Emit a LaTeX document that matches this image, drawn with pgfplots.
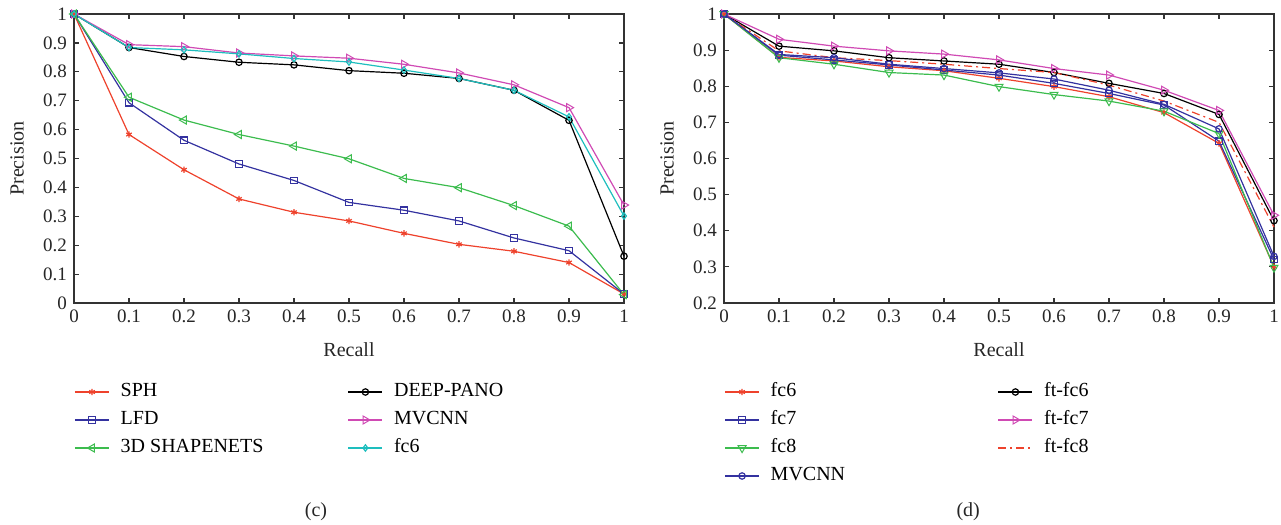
\documentclass[border=0pt]{standalone}
\usepackage{fontspec}
\setmainfont{Liberation Serif}
\usepackage{pgfplots}
\pgfplotsset{compat=1.18}

\definecolor{cred}{RGB}{238,66,44}
\definecolor{cblue}{RGB}{52,50,160}
\definecolor{cgreen}{RGB}{60,188,78}
\definecolor{cmag}{RGB}{208,74,180}
\definecolor{ccyan}{RGB}{30,190,190}

\pgfplotsset{
  prcurve/.style={
    scale only axis, width=275pt, height=144.5pt,
    xmin=0, xmax=1,
    xtick={0,0.1,0.2,0.3,0.4,0.5,0.6,0.7,0.8,0.9,1},
    tick align=inside, major tick length=2.5pt,
    axis line style={black!80, line width=0.6pt},
    tick style={black!80, line width=0.6pt},
    /pgf/number format/assume math mode=true,
    tick label style={font=\fontsize{9.5}{10}\selectfont, text=black!85},
    xlabel={Recall}, ylabel={Precision},
    label style={font=\fontsize{10}{12}\selectfont, text=black!85},
    xlabel style={at={(axis description cs:0.5,-0.1626)}, anchor=center},
    ylabel style={at={(axis description cs:-0.1036,0.5)}, anchor=center},
    clip=false,
    every axis plot/.append style={line width=0.6pt, mark size=1.6pt},
    legend columns=2,
    legend cell align=left,
    legend style={draw=none, fill=none, at={(0,-0.2685)}, anchor=north west,
      inner sep=0pt, column sep=4.5pt, row sep=3pt,
      font=\fontsize{10}{12}\selectfont,
      nodes={inner sep=1pt, text height=7pt, text depth=2pt}},
  },
  tri/.style={mark=triangle, mark options={rotate=#1, mark size=2.3pt, line width=0.5pt}},
}
\newcommand{\lb}[1]{\makebox[108pt][l]{#1}}

\begin{document}
\begin{tikzpicture}
\useasboundingbox (-37pt,-111pt) rectangle (603.5pt,151.5pt);

% (c)
\begin{axis}[prcurve, ymin=0, ymax=1,
    ytick={0,0.1,0.2,0.3,0.4,0.5,0.6,0.7,0.8,0.9,1}]
\addplot[cred, mark=asterisk] coordinates {
  (0,1) (0.1,0.583) (0.2,0.461) (0.3,0.360) (0.4,0.314) (0.5,0.284)
  (0.6,0.241) (0.7,0.203) (0.8,0.179) (0.9,0.140) (1,0.031)};
\addlegendentry{\lb{SPH}}
\addplot[black, mark=o] coordinates {
  (0,1) (0.1,0.884) (0.2,0.853) (0.3,0.833) (0.4,0.824) (0.5,0.804)
  (0.6,0.795) (0.7,0.777) (0.8,0.736) (0.9,0.632) (1,0.162)};
\addlegendentry{DEEP-PANO}
\addplot[cblue, mark=square] coordinates {
  (0,1) (0.1,0.693) (0.2,0.563) (0.3,0.481) (0.4,0.424) (0.5,0.348)
  (0.6,0.321) (0.7,0.284) (0.8,0.225) (0.9,0.181) (1,0.031)};
\addlegendentry{\lb{LFD}}
\addplot[cmag, tri=-90] coordinates {
  (0,1) (0.1,0.894) (0.2,0.887) (0.3,0.865) (0.4,0.855) (0.5,0.847)
  (0.6,0.826) (0.7,0.796) (0.8,0.755) (0.9,0.676) (1,0.339)};
\addlegendentry{MVCNN}
\addplot[cgreen, tri=90] coordinates {
  (0,1) (0.1,0.712) (0.2,0.633) (0.3,0.583) (0.4,0.543) (0.5,0.499)
  (0.6,0.431) (0.7,0.399) (0.8,0.337) (0.9,0.266) (1,0.029)};
\addlegendentry{\lb{3D SHAPENETS}}
\addplot[ccyan, mark=diamond] coordinates {
  (0,1) (0.1,0.884) (0.2,0.876) (0.3,0.862) (0.4,0.846) (0.5,0.834)
  (0.6,0.806) (0.7,0.777) (0.8,0.736) (0.9,0.644) (1,0.301)};
\addlegendentry{fc6}
\node[font=\fontsize{10}{12}\selectfont, text=black!85] at (rel axis cs:0.44,-0.723) {(c)};
\end{axis}

% (d)
\begin{axis}[prcurve, at={(325pt,0pt)}, anchor=south west, ymin=0.2, ymax=1,
    ytick={0.2,0.3,0.4,0.5,0.6,0.7,0.8,0.9,1}]
\addplot[cred, mark=asterisk] coordinates {
  (0,1) (0.1,0.880) (0.2,0.870) (0.3,0.854) (0.4,0.843) (0.5,0.822)
  (0.6,0.799) (0.7,0.771) (0.8,0.727) (0.9,0.642) (1,0.300)};
\addlegendentry{\lb{fc6}}
\addplot[black, mark=o] coordinates {
  (0,1) (0.1,0.911) (0.2,0.898) (0.3,0.879) (0.4,0.870) (0.5,0.861)
  (0.6,0.838) (0.7,0.808) (0.8,0.780) (0.9,0.722) (1,0.428)};
\addlegendentry{ft-fc6}
\addplot[cblue, mark=square] coordinates {
  (0,1) (0.1,0.886) (0.2,0.873) (0.3,0.859) (0.4,0.845) (0.5,0.831)
  (0.6,0.808) (0.7,0.780) (0.8,0.748) (0.9,0.648) (1,0.320)};
\addlegendentry{\lb{fc7}}
\addplot[cmag, tri=-90] coordinates {
  (0,1) (0.1,0.930) (0.2,0.911) (0.3,0.898) (0.4,0.889) (0.5,0.873)
  (0.6,0.849) (0.7,0.831) (0.8,0.789) (0.9,0.733) (1,0.443)};
\addlegendentry{ft-fc7}
\addplot[cgreen, tri=180] coordinates {
  (0,1) (0.1,0.879) (0.2,0.861) (0.3,0.838) (0.4,0.831) (0.5,0.799)
  (0.6,0.777) (0.7,0.759) (0.8,0.731) (0.9,0.669) (1,0.298)};
\addlegendentry{\lb{fc8}}
\addplot[cred, no marks, dash pattern=on 4pt off 2pt on 1pt off 2pt] coordinates {
  (0,1) (0.1,0.898) (0.2,0.879) (0.3,0.871) (0.4,0.861) (0.5,0.849)
  (0.6,0.838) (0.7,0.803) (0.8,0.759) (0.9,0.700) (1,0.410)};
\addlegendentry{ft-fc8}
\addplot[cblue, mark=o] coordinates {
  (0,1) (0.1,0.888) (0.2,0.879) (0.3,0.861) (0.4,0.849) (0.5,0.837)
  (0.6,0.820) (0.7,0.789) (0.8,0.750) (0.9,0.682) (1,0.329)};
\addlegendentry{\lb{MVCNN}}
\node[font=\fontsize{10}{12}\selectfont, text=black!85] at (rel axis cs:0.444,-0.723) {(d)};
\end{axis}
\end{tikzpicture}
\end{document}
